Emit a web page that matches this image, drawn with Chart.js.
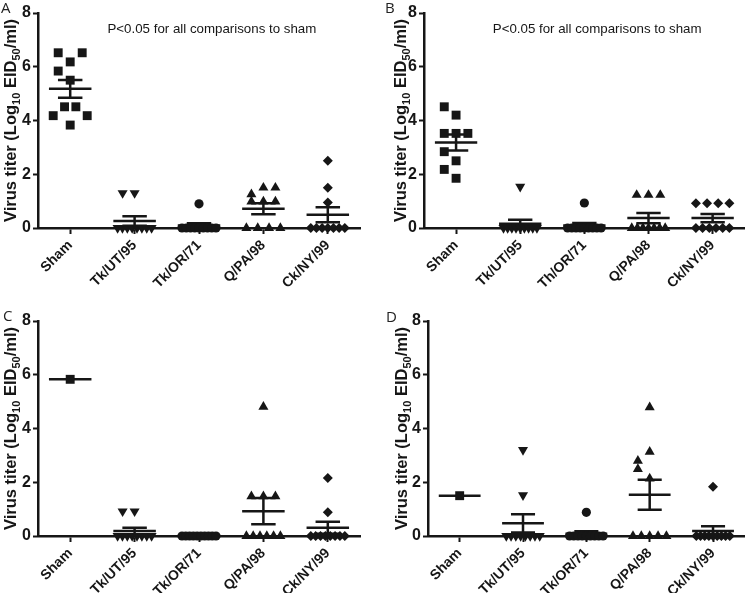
<!DOCTYPE html>
<html>
<head>
<meta charset="utf-8">
<script src="https://cdn.jsdelivr.net/npm/chart.js@4.4.1/dist/chart.umd.min.js"></script>
<style>
  body { margin: 0; background: #fff; }
  #wrap { position: relative; width: 751px; height: 593px; overflow: hidden; }
  canvas { position: absolute; }
  .tag { position: absolute; font: 15px "Open Sans", sans-serif; line-height: 15px; color: #222; }
</style>
</head>
<body>
<div id="wrap">
  <canvas id="pA" width="375" height="293" style="left:0;top:0"></canvas>
  <canvas id="pB" width="376" height="293" style="left:375px;top:0"></canvas>
  <canvas id="pC" width="375" height="298" style="left:0;top:295px"></canvas>
  <canvas id="pD" width="376" height="298" style="left:375px;top:295px"></canvas>
  <div class="tag" style="left:1px;top:0px">A</div>
  <div class="tag" style="left:385px;top:0px">B</div>
  <div class="tag" style="left:3px;top:308px">C</div>
  <div class="tag" style="left:386px;top:309px">D</div>
</div>
<script>
// categories and tick labels
const categoriesA = ["Sham", "Tk/UT/95", "Tk/OR/71", "Q/PA/98", "Ck/NY/99"];
const categoriesB = ["Sham", "Tk/UT/95", "Th/OR/71", "Q/PA/98", "Ck/NY/99"];
const yTicks = [0, 2, 4, 6, 8];

// virus titers (log10 EID50/ml), one list per group
const titersA = [
  [6.52, 6.18, 6.52, 5.84, 5.5, 4.18, 4.51, 4.51, 4.18, 3.83],
  [1.3, 1.3, 0, 0, 0, 0, 0, 0, 0, 0],
  [0.9, 0, 0, 0, 0, 0, 0, 0, 0, 0],
  [1.25, 1.5, 1.5, 0.98, 0.98, 0.98, 0, 0, 0, 0],
  [2.5, 1.5, 0.95, 0, 0, 0, 0, 0, 0, 0],
];
const titersB = [
  [4.51, 4.2, 3.52, 3.52, 3.52, 2.84, 2.5, 2.18, 1.85],
  [1.54, 0, 0, 0, 0, 0, 0, 0, 0, 0],
  [0.93, 0, 0, 0, 0, 0, 0, 0, 0, 0],
  [1.23, 1.23, 1.23, 0, 0, 0, 0, 0, 0, 0],
  [0.92, 0.92, 0.92, 0.92, 0, 0, 0, 0, 0, 0],
];
const titersC = [
  [5.83],
  [0.92, 0.92, 0, 0, 0, 0, 0, 0, 0, 0],
  [0, 0, 0, 0, 0, 0, 0, 0, 0, 0],
  [4.81, 1.48, 1.48, 1.48, 0, 0, 0, 0, 0, 0],
  [2.16, 0.88, 0, 0, 0, 0, 0, 0, 0, 0],
];
const titersD = [
  [1.5],
  [3.2, 1.52, 0, 0, 0, 0, 0, 0, 0, 0],
  [0.88, 0, 0, 0, 0, 0, 0, 0, 0, 0],
  [4.79, 2.8, 3.13, 2.49, 2.14, 0, 0, 0, 0, 0],
  [1.83, 0, 0, 0, 0, 0, 0, 0, 0, 0],
];

const noteText = "P<0.05 for all comparisons to sham";
const titleParts = [["Virus titer (Log", false], ["10", true], [" EID", false], ["50", true], ["/ml)", false]];

const ink = "#161616";
const fontFam = "'Liberation Sans', Arial, sans-serif";

const shapes = [
  { style: "rect", r: 6.3, rot: 0 },
  { style: "triangle", r: 5.8, rot: 180 },
  { style: "circle", r: 4.6, rot: 0 },
  { style: "triangle", r: 5.8, rot: 0 },
  { style: "rectRot", r: 5, rot: 0 },
];

function mean(v) {
  return v.reduce((a, b) => a + b, 0) / v.length;
}

function sem(v) {
  if (v.length < 2) return 0;
  let m = mean(v);
  let ss = v.reduce((a, b) => a + (b - m) * (b - m), 0);
  return Math.sqrt(ss / (v.length - 1)) / Math.sqrt(v.length);
}

// spread points that sit at about the same height into a row (like a column scatter plot)
function spreadGroup(values, pxPerCat) {
  let order = values.map((v, i) => i).sort((a, b) => values[b] - values[a] || a - b);
  let offsets = new Array(values.length).fill(0);
  let k = 0;
  while (k < order.length) {
    let start = values[order[k]];
    let row = [];
    while (k < order.length && start - values[order[k]] < 0.36) {
      row.push(order[k]);
      k++;
    }
    row.sort((a, b) => a - b);
    let n = row.length;
    let gap = n > 1 ? Math.min(12, 34 / (n - 1)) : 0;
    row.forEach((idx, j) => {
      let px = n === 2 ? (j - 1) * gap : (j - (n - 1) / 2) * gap;
      offsets[idx] = px / pxPerCat;
    });
  }
  return offsets;
}

const panelText = {
  id: "panelText",
  afterDraw(chart, args, opts) {
    const { ctx, chartArea, scales } = chart;
    ctx.save();
    ctx.fillStyle = ink;
    if (opts.note) {
      ctx.font = "13.3px " + fontFam;
      ctx.textAlign = "center";
      ctx.textBaseline = "middle";
      ctx.fillText(noteText, scales.x.getPixelForValue(2.2), scales.y.getPixelForValue(7.4));
    }
    const mainFont = "bold 16.5px " + fontFam;
    const subFont = "bold 11px " + fontFam;
    ctx.translate(opts.titleX, (chartArea.top + chartArea.bottom) / 2);
    ctx.rotate(-Math.PI / 2);
    ctx.textAlign = "left";
    ctx.textBaseline = "alphabetic";
    let widths = titleParts.map(([t, sub]) => {
      ctx.font = sub ? subFont : mainFont;
      return ctx.measureText(t).width;
    });
    let x = -widths.reduce((a, b) => a + b, 0) / 2;
    titleParts.forEach(([t, sub], i) => {
      ctx.font = sub ? subFont : mainFont;
      ctx.fillText(t, x, sub ? 4 : 0);
      x += widths[i];
    });
    ctx.restore();
  },
};

const panels = [
  { id: "pA", cats: categoriesA, titers: titersA, axisX: 38, top: 13, bottom: 228, right: 360, titleX: 16, note: true },
  { id: "pB", cats: categoriesB, titers: titersB, axisX: 49, top: 13, bottom: 228, right: 375, titleX: 31, note: true },
  { id: "pC", cats: categoriesA, titers: titersC, axisX: 38, top: 26, bottom: 241, right: 360, titleX: 16, note: false },
  { id: "pD", cats: categoriesA, titers: titersD, axisX: 53, top: 26, bottom: 241, right: 375, titleX: 32, note: false },
];

function desenharPainel(p) {
  const canvas = document.getElementById(p.id);
  const pxPerCat = (p.right - p.axisX) / p.cats.length;
  let datasets = [];

  p.titers.forEach((vals, i) => {
    let off = spreadGroup(vals, pxPerCat);
    datasets.push({
      data: vals.map((v, j) => ({ x: i + off[j], y: v })),
      pointStyle: shapes[i].style,
      pointRadius: shapes[i].r,
      pointRotation: shapes[i].rot,
      backgroundColor: ink,
      borderColor: ink,
      borderWidth: 0,
      showLine: false,
      clip: false,
    });
  });

  // mean and SEM bars
  let bars = [];
  p.titers.forEach((vals, i) => {
    let m = mean(vals);
    let s = sem(vals);
    bars.push({ x: i - 0.33, y: m }, { x: i + 0.33, y: m }, { x: i, y: null });
    if (s > 0) {
      bars.push({ x: i, y: m - s }, { x: i, y: m + s }, { x: i, y: null });
      bars.push({ x: i - 0.19, y: m + s }, { x: i + 0.19, y: m + s }, { x: i, y: null });
      bars.push({ x: i - 0.19, y: m - s }, { x: i + 0.19, y: m - s }, { x: i, y: null });
    }
  });
  datasets.push({
    data: bars,
    showLine: true,
    spanGaps: false,
    borderColor: ink,
    borderWidth: 2.5,
    pointRadius: 0,
    tension: 0,
    clip: false,
  });

  new Chart(canvas, {
    type: "scatter",
    data: { datasets },
    options: {
      responsive: false,
      animation: false,
      events: [],
      layout: { padding: { top: p.top, right: canvas.width - p.right, bottom: 0, left: 0 } },
      plugins: {
        legend: { display: false },
        tooltip: { enabled: false },
        panelText: { note: p.note, titleX: p.titleX },
      },
      scales: {
        x: {
          type: "linear",
          min: -0.5,
          max: 4.5,
          afterBuildTicks: (s) => {
            s.ticks = p.cats.map((c, i) => ({ value: i }));
          },
          afterFit: (s) => {
            s.height = canvas.height - p.bottom;
            s.paddingLeft = 0;
            s.paddingRight = 0;
          },
          ticks: {
            autoSkip: false,
            minRotation: 45,
            maxRotation: 45,
            padding: 3,
            color: ink,
            font: { family: fontFam, size: 14, weight: "bold" },
            callback: (v) => p.cats[v],
          },
          grid: { drawOnChartArea: false, drawTicks: true, tickLength: 6, tickWidth: 2, tickColor: ink, color: ink },
          border: { display: true, color: ink, width: 2.5 },
        },
        y: {
          min: 0,
          max: 8,
          afterBuildTicks: (s) => {
            s.ticks = yTicks.map((v) => ({ value: v }));
          },
          afterFit: (s) => {
            s.width = p.axisX;
            s.paddingTop = 0;
            s.paddingBottom = 0;
          },
          ticks: {
            padding: 2,
            color: ink,
            font: { family: fontFam, size: 16, weight: "bold" },
          },
          grid: { drawOnChartArea: false, drawTicks: true, tickLength: 5, tickWidth: 2, tickColor: ink, color: ink },
          border: { display: true, color: ink, width: 2.5 },
        },
      },
    },
    plugins: [panelText],
  });
}

panels.forEach(desenharPainel);
</script>
</body>
</html>
